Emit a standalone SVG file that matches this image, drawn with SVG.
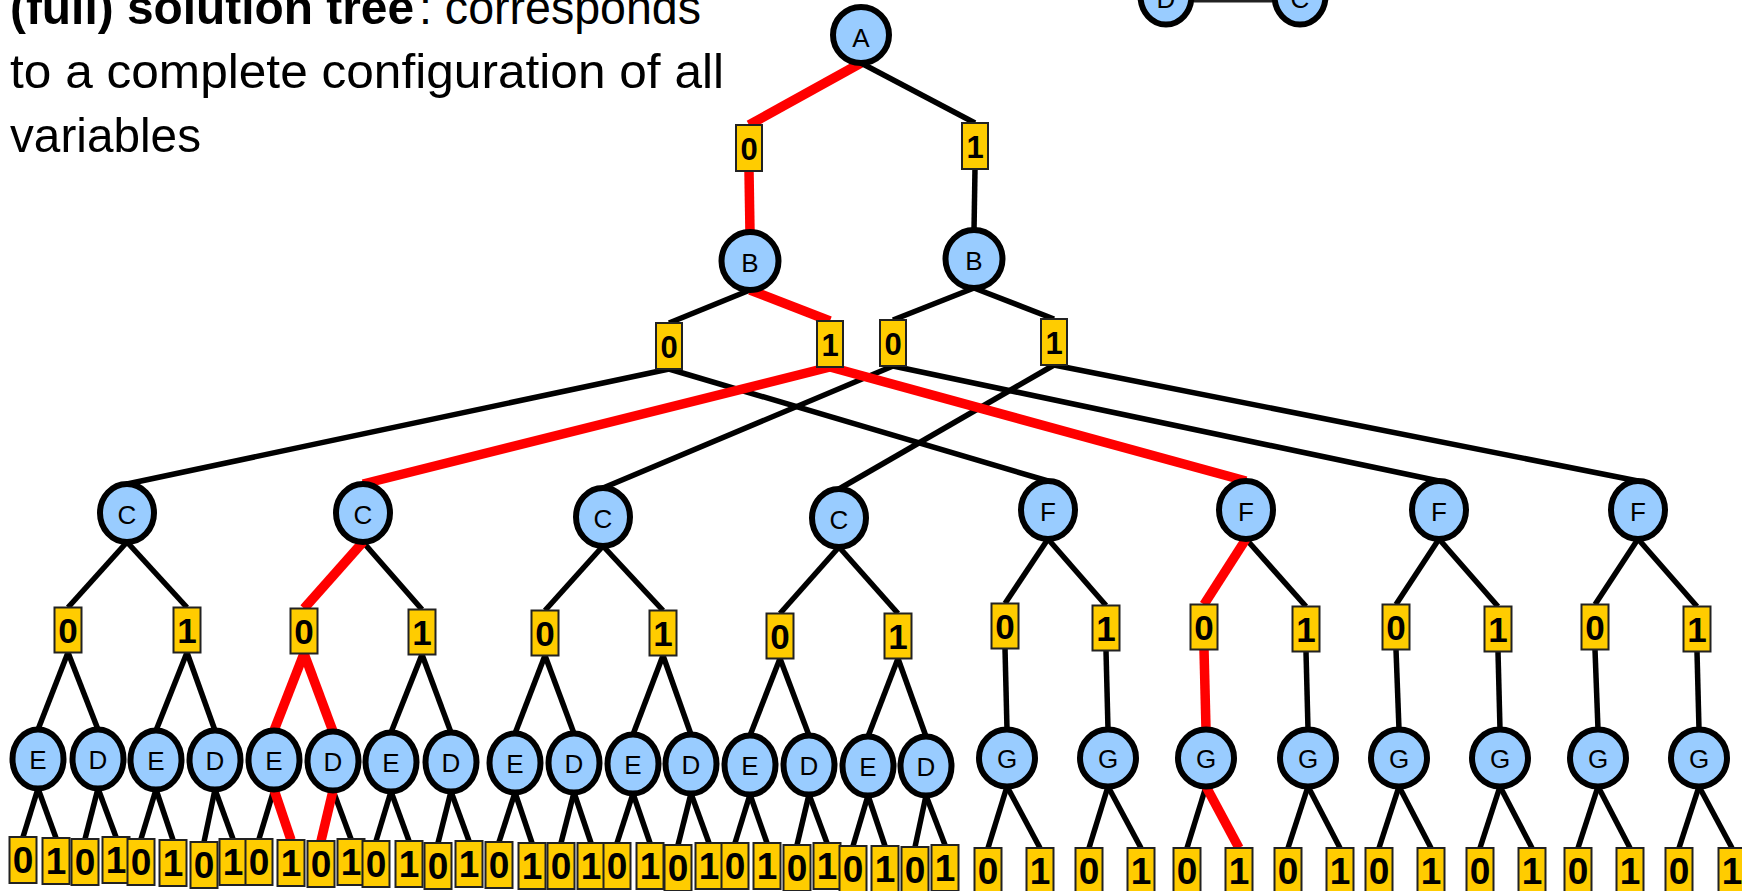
<svg xmlns="http://www.w3.org/2000/svg" width="1742" height="891" viewBox="0 0 1742 891">
  <style>
    .cap { font-family: "Liberation Sans", Arial, sans-serif; font-size: 49px; fill: #000; }
    .cap.b { font-weight: bold; }
    .n ellipse { fill: #99CCFF; stroke: #000; stroke-width: 6; }
    .n text { font-family: "Liberation Sans", Arial, sans-serif; font-size: 26px; text-anchor: middle; fill: #000; }
    .v rect { fill: #FFCC00; stroke: #222; stroke-width: 2; }
    .v text { font-family: "Liberation Sans", Arial, sans-serif; font-weight: bold; font-size: 31px; text-anchor: middle; fill: #000; }
    .v.m text { font-size: 35px; }
    .v.s text { font-size: 37px; }
    #connectors line { stroke: #000; stroke-width: 5.5; }
    #connectors line.r { stroke: #FF0000; stroke-width: 9.5; }
    #connectors line.t { stroke: #222; stroke-width: 3; }
  </style>

  <!-- caption -->
  <g id="caption">
    <text class="cap b" x="10" y="24" textLength="404" lengthAdjust="spacingAndGlyphs">(full) solution tree</text>
    <text class="cap" x="419" y="24" textLength="282" lengthAdjust="spacingAndGlyphs">: corresponds</text>
    <text class="cap" x="10" y="88" textLength="714" lengthAdjust="spacingAndGlyphs">to a complete configuration of all</text>
    <text class="cap" x="10" y="152" textLength="191" lengthAdjust="spacingAndGlyphs">variables</text>
  </g>

  <g id="connectors">
    <!-- primal graph fragment -->
    <line class="t" x1="1194" y1="1" x2="1272" y2="1"/>
    <!-- A -->
    <line class="r" x1="861" y1="63" x2="749" y2="125"/>
    <line x1="861" y1="63" x2="975" y2="123"/>
    <line class="r" x1="749" y1="171" x2="750" y2="233"/>
    <line x1="975" y1="169" x2="974" y2="231"/>
    <!-- B -->
    <line x1="750" y1="290" x2="669" y2="323"/>
    <line class="r" x1="750" y1="290" x2="830" y2="321"/>
    <line x1="974" y1="288" x2="893" y2="320"/>
    <line x1="974" y1="288" x2="1054" y2="319"/>
    <!-- level 2 values to C / F -->
    <line x1="669" y1="369" x2="127" y2="484"/>
    <line x1="669" y1="369" x2="1048" y2="481"/>
    <line x1="893" y1="366" x2="603" y2="488"/>
    <line x1="893" y1="366" x2="1439" y2="481"/>
    <line x1="1054" y1="365" x2="839" y2="489"/>
    <line x1="1054" y1="365" x2="1638" y2="481"/>
    <line class="r" x1="830" y1="367" x2="363" y2="484"/>
    <line class="r" x1="830" y1="367" x2="1246" y2="481"/>
    <!-- C / F to values -->
    <line x1="127" y1="542" x2="68" y2="607.5"/>
    <line x1="127" y1="542" x2="187" y2="607.5"/>
    <line x1="363" y1="542" x2="422" y2="609.5"/>
    <line x1="603" y1="546" x2="545" y2="610.5"/>
    <line x1="603" y1="546" x2="663" y2="610.5"/>
    <line x1="839" y1="547" x2="780" y2="613.5"/>
    <line x1="839" y1="547" x2="898" y2="613.5"/>
    <line x1="1048" y1="539" x2="1005" y2="603.5"/>
    <line x1="1048" y1="539" x2="1106" y2="605.5"/>
    <line x1="1246" y1="539" x2="1306" y2="606.5"/>
    <line x1="1439" y1="539" x2="1396" y2="604.5"/>
    <line x1="1439" y1="539" x2="1498" y2="606.5"/>
    <line x1="1638" y1="539" x2="1595" y2="604.5"/>
    <line x1="1638" y1="539" x2="1697" y2="606.5"/>
    <line class="r" x1="363" y1="542" x2="304" y2="608.5"/>
    <line class="r" x1="1246" y1="539" x2="1204" y2="604.5"/>
    <!-- values to E / D -->
    <line x1="68" y1="652.5" x2="38" y2="729.5"/>
    <line x1="68" y1="652.5" x2="98" y2="729.5"/>
    <line x1="187" y1="652.5" x2="156" y2="730.5"/>
    <line x1="187" y1="652.5" x2="215" y2="730.5"/>
    <line x1="422" y1="654.5" x2="391" y2="732.5"/>
    <line x1="422" y1="654.5" x2="451" y2="732.5"/>
    <line x1="545" y1="655.5" x2="515" y2="733.5"/>
    <line x1="545" y1="655.5" x2="574" y2="733.5"/>
    <line x1="663" y1="655.5" x2="633" y2="734.5"/>
    <line x1="663" y1="655.5" x2="691" y2="734.5"/>
    <line x1="780" y1="658.5" x2="750" y2="735.5"/>
    <line x1="780" y1="658.5" x2="809" y2="735.5"/>
    <line x1="898" y1="658.5" x2="868" y2="736.5"/>
    <line x1="898" y1="658.5" x2="926" y2="736.5"/>
    <line class="r" x1="304" y1="653.5" x2="274" y2="730.5"/>
    <line class="r" x1="304" y1="653.5" x2="333" y2="731.5"/>
    <!-- values to G -->
    <line x1="1005" y1="648.5" x2="1007" y2="729.5"/>
    <line x1="1106" y1="650.5" x2="1108" y2="729.5"/>
    <line x1="1306" y1="651.5" x2="1308" y2="729.5"/>
    <line x1="1396" y1="649.5" x2="1399" y2="729.5"/>
    <line x1="1498" y1="651.5" x2="1500" y2="729.5"/>
    <line x1="1595" y1="649.5" x2="1598" y2="729.5"/>
    <line x1="1697" y1="651.5" x2="1699" y2="729.5"/>
    <line class="r" x1="1204" y1="649.5" x2="1206" y2="729.5"/>
    <!-- E / D to leaf values -->
    <line x1="38" y1="788.5" x2="23" y2="837"/>
    <line x1="38" y1="788.5" x2="56" y2="838"/>
    <line x1="98" y1="788.5" x2="85" y2="839"/>
    <line x1="98" y1="788.5" x2="116" y2="837"/>
    <line x1="156" y1="789.5" x2="141" y2="839"/>
    <line x1="156" y1="789.5" x2="173" y2="840"/>
    <line x1="215" y1="789.5" x2="204" y2="842"/>
    <line x1="215" y1="789.5" x2="233" y2="839"/>
    <line x1="274" y1="789.5" x2="259" y2="839"/>
    <line x1="333" y1="790.5" x2="351" y2="839"/>
    <line x1="391" y1="791.5" x2="376" y2="841"/>
    <line x1="391" y1="791.5" x2="409" y2="841"/>
    <line x1="451" y1="791.5" x2="438" y2="843"/>
    <line x1="451" y1="791.5" x2="469" y2="841"/>
    <line x1="515" y1="792.5" x2="499" y2="842"/>
    <line x1="515" y1="792.5" x2="532" y2="843"/>
    <line x1="574" y1="792.5" x2="561" y2="843"/>
    <line x1="574" y1="792.5" x2="591" y2="843"/>
    <line x1="633" y1="793.5" x2="617" y2="843"/>
    <line x1="633" y1="793.5" x2="650" y2="843"/>
    <line x1="691" y1="793.5" x2="678" y2="845"/>
    <line x1="691" y1="793.5" x2="709" y2="843"/>
    <line x1="750" y1="794.5" x2="735" y2="843"/>
    <line x1="750" y1="794.5" x2="767" y2="843"/>
    <line x1="809" y1="794.5" x2="797" y2="845"/>
    <line x1="809" y1="794.5" x2="827" y2="843"/>
    <line x1="868" y1="795.5" x2="853" y2="846"/>
    <line x1="868" y1="795.5" x2="885" y2="846"/>
    <line x1="926" y1="795.5" x2="915" y2="847"/>
    <line x1="926" y1="795.5" x2="945" y2="845"/>
    <line class="r" x1="274" y1="789.5" x2="291" y2="840"/>
    <line class="r" x1="333" y1="790.5" x2="321" y2="841"/>
    <!-- G to leaf values -->
    <line x1="1007" y1="786.5" x2="988" y2="848"/>
    <line x1="1007" y1="786.5" x2="1040" y2="848"/>
    <line x1="1108" y1="786.5" x2="1089" y2="848"/>
    <line x1="1108" y1="786.5" x2="1141" y2="848"/>
    <line x1="1206" y1="786.5" x2="1187" y2="848"/>
    <line x1="1308" y1="786.5" x2="1288" y2="848"/>
    <line x1="1308" y1="786.5" x2="1340" y2="848"/>
    <line x1="1399" y1="786.5" x2="1379" y2="848"/>
    <line x1="1399" y1="786.5" x2="1431" y2="848"/>
    <line x1="1500" y1="786.5" x2="1480" y2="848"/>
    <line x1="1500" y1="786.5" x2="1532" y2="848"/>
    <line x1="1598" y1="786.5" x2="1578" y2="848"/>
    <line x1="1598" y1="786.5" x2="1630" y2="848"/>
    <line x1="1699" y1="786.5" x2="1679" y2="848"/>
    <line x1="1699" y1="786.5" x2="1732" y2="848"/>
    <line class="r" x1="1206" y1="786.5" x2="1239" y2="848"/>
  </g>

  <!-- primal graph fragment (top right) -->
  <g id="pg-D" class="n"><ellipse cx="1166" cy="-4" rx="25.5" ry="28.5"/><text x="1166" y="8">D</text></g>
  <g id="pg-C" class="n"><ellipse cx="1300" cy="-4" rx="25.5" ry="28.5"/><text x="1300" y="8">C</text></g>

  <!-- variable nodes -->
  <g id="n-A" class="n"><ellipse cx="861" cy="35" rx="28" ry="28"/><text x="861" y="47">A</text></g>
  <g id="n-B0" class="n"><ellipse cx="750" cy="261" rx="28.5" ry="29"/><text x="750" y="272">B</text></g>
  <g id="n-B1" class="n"><ellipse cx="974" cy="259" rx="28.5" ry="29"/><text x="974" y="270">B</text></g>

  <g id="n-C00" class="n"><ellipse cx="127" cy="513" rx="27" ry="29"/><text x="127" y="524">C</text></g>
  <g id="n-C01" class="n"><ellipse cx="363" cy="513" rx="27" ry="29"/><text x="363" y="524">C</text></g>
  <g id="n-C10" class="n"><ellipse cx="603" cy="517" rx="27" ry="29"/><text x="603" y="528">C</text></g>
  <g id="n-C11" class="n"><ellipse cx="839" cy="518" rx="27" ry="29"/><text x="839" y="529">C</text></g>
  <g id="n-F00" class="n"><ellipse cx="1048" cy="510" rx="27" ry="29"/><text x="1048" y="521">F</text></g>
  <g id="n-F01" class="n"><ellipse cx="1246" cy="510" rx="27" ry="29"/><text x="1246" y="521">F</text></g>
  <g id="n-F10" class="n"><ellipse cx="1439" cy="510" rx="27" ry="29"/><text x="1439" y="521">F</text></g>
  <g id="n-F11" class="n"><ellipse cx="1638" cy="510" rx="27" ry="29"/><text x="1638" y="521">F</text></g>

  <g id="n-E1" class="n"><ellipse cx="38" cy="759" rx="25.5" ry="29.5"/><text x="38" y="769">E</text></g>
  <g id="n-D1" class="n"><ellipse cx="98" cy="759" rx="25.5" ry="29.5"/><text x="98" y="769">D</text></g>
  <g id="n-E2" class="n"><ellipse cx="156" cy="760" rx="25.5" ry="29.5"/><text x="156" y="770">E</text></g>
  <g id="n-D2" class="n"><ellipse cx="215" cy="760" rx="25.5" ry="29.5"/><text x="215" y="770">D</text></g>
  <g id="n-E3" class="n"><ellipse cx="274" cy="760" rx="25.5" ry="29.5"/><text x="274" y="770">E</text></g>
  <g id="n-D3" class="n"><ellipse cx="333" cy="761" rx="25.5" ry="29.5"/><text x="333" y="771">D</text></g>
  <g id="n-E4" class="n"><ellipse cx="391" cy="762" rx="25.5" ry="29.5"/><text x="391" y="772">E</text></g>
  <g id="n-D4" class="n"><ellipse cx="451" cy="762" rx="25.5" ry="29.5"/><text x="451" y="772">D</text></g>
  <g id="n-E5" class="n"><ellipse cx="515" cy="763" rx="25.5" ry="29.5"/><text x="515" y="773">E</text></g>
  <g id="n-D5" class="n"><ellipse cx="574" cy="763" rx="25.5" ry="29.5"/><text x="574" y="773">D</text></g>
  <g id="n-E6" class="n"><ellipse cx="633" cy="764" rx="25.5" ry="29.5"/><text x="633" y="774">E</text></g>
  <g id="n-D6" class="n"><ellipse cx="691" cy="764" rx="25.5" ry="29.5"/><text x="691" y="774">D</text></g>
  <g id="n-E7" class="n"><ellipse cx="750" cy="765" rx="25.5" ry="29.5"/><text x="750" y="775">E</text></g>
  <g id="n-D7" class="n"><ellipse cx="809" cy="765" rx="25.5" ry="29.5"/><text x="809" y="775">D</text></g>
  <g id="n-E8" class="n"><ellipse cx="868" cy="766" rx="25.5" ry="29.5"/><text x="868" y="776">E</text></g>
  <g id="n-D8" class="n"><ellipse cx="926" cy="766" rx="25.5" ry="29.5"/><text x="926" y="776">D</text></g>

  <g id="n-G1" class="n"><ellipse cx="1007" cy="758" rx="28" ry="28.5"/><text x="1007" y="768">G</text></g>
  <g id="n-G2" class="n"><ellipse cx="1108" cy="758" rx="28" ry="28.5"/><text x="1108" y="768">G</text></g>
  <g id="n-G3" class="n"><ellipse cx="1206" cy="758" rx="28" ry="28.5"/><text x="1206" y="768">G</text></g>
  <g id="n-G4" class="n"><ellipse cx="1308" cy="758" rx="28" ry="28.5"/><text x="1308" y="768">G</text></g>
  <g id="n-G5" class="n"><ellipse cx="1399" cy="758" rx="28" ry="28.5"/><text x="1399" y="768">G</text></g>
  <g id="n-G6" class="n"><ellipse cx="1500" cy="758" rx="28" ry="28.5"/><text x="1500" y="768">G</text></g>
  <g id="n-G7" class="n"><ellipse cx="1598" cy="758" rx="28" ry="28.5"/><text x="1598" y="768">G</text></g>
  <g id="n-G8" class="n"><ellipse cx="1699" cy="758" rx="28" ry="28.5"/><text x="1699" y="768">G</text></g>

  <!-- value boxes: A and B levels -->
  <g id="v-A0" class="v"><rect x="736" y="125" width="26" height="46"/><text x="749" y="160">0</text></g>
  <g id="v-A1" class="v"><rect x="962" y="123" width="26" height="46"/><text x="975" y="158">1</text></g>
  <g id="v-B00" class="v"><rect x="656" y="323" width="26" height="46"/><text x="669" y="358">0</text></g>
  <g id="v-B01" class="v"><rect x="817" y="321" width="26" height="46"/><text x="830" y="356">1</text></g>
  <g id="v-B10" class="v"><rect x="880" y="320" width="26" height="46"/><text x="893" y="355">0</text></g>
  <g id="v-B11" class="v"><rect x="1041" y="319" width="26" height="46"/><text x="1054" y="354">1</text></g>

  <!-- value boxes: C and F levels -->
  <g id="v-C00-0" class="v m"><rect x="54.5" y="607.5" width="27" height="45"/><text x="68" y="642.5">0</text></g>
  <g id="v-C00-1" class="v m"><rect x="173.5" y="607.5" width="27" height="45"/><text x="187" y="642.5">1</text></g>
  <g id="v-C01-0" class="v m"><rect x="290.5" y="608.5" width="27" height="45"/><text x="304" y="643.5">0</text></g>
  <g id="v-C01-1" class="v m"><rect x="408.5" y="609.5" width="27" height="45"/><text x="422" y="644.5">1</text></g>
  <g id="v-C10-0" class="v m"><rect x="531.5" y="610.5" width="27" height="45"/><text x="545" y="645.5">0</text></g>
  <g id="v-C10-1" class="v m"><rect x="649.5" y="610.5" width="27" height="45"/><text x="663" y="645.5">1</text></g>
  <g id="v-C11-0" class="v m"><rect x="766.5" y="613.5" width="27" height="45"/><text x="780" y="648.5">0</text></g>
  <g id="v-C11-1" class="v m"><rect x="884.5" y="613.5" width="27" height="45"/><text x="898" y="648.5">1</text></g>
  <g id="v-F00-0" class="v m"><rect x="991.5" y="603.5" width="27" height="45"/><text x="1005" y="638.5">0</text></g>
  <g id="v-F00-1" class="v m"><rect x="1092.5" y="605.5" width="27" height="45"/><text x="1106" y="640.5">1</text></g>
  <g id="v-F01-0" class="v m"><rect x="1190.5" y="604.5" width="27" height="45"/><text x="1204" y="639.5">0</text></g>
  <g id="v-F01-1" class="v m"><rect x="1292.5" y="606.5" width="27" height="45"/><text x="1306" y="641.5">1</text></g>
  <g id="v-F10-0" class="v m"><rect x="1382.5" y="604.5" width="27" height="45"/><text x="1396" y="639.5">0</text></g>
  <g id="v-F10-1" class="v m"><rect x="1484.5" y="606.5" width="27" height="45"/><text x="1498" y="641.5">1</text></g>
  <g id="v-F11-0" class="v m"><rect x="1581.5" y="604.5" width="27" height="45"/><text x="1595" y="639.5">0</text></g>
  <g id="v-F11-1" class="v m"><rect x="1683.5" y="606.5" width="27" height="45"/><text x="1697" y="641.5">1</text></g>

  <!-- leaf value boxes under E / D -->
  <g id="v-E1-0" class="v s"><rect x="9.5" y="837" width="27" height="46"/><text x="23" y="873">0</text></g>
  <g id="v-E1-1" class="v s"><rect x="42.5" y="838" width="27" height="46"/><text x="56" y="874">1</text></g>
  <g id="v-D1-0" class="v s"><rect x="71.5" y="839" width="27" height="46"/><text x="85" y="875">0</text></g>
  <g id="v-D1-1" class="v s"><rect x="102.5" y="837" width="27" height="46"/><text x="116" y="873">1</text></g>
  <g id="v-E2-0" class="v s"><rect x="127.5" y="839" width="27" height="46"/><text x="141" y="875">0</text></g>
  <g id="v-E2-1" class="v s"><rect x="159.5" y="840" width="27" height="46"/><text x="173" y="876">1</text></g>
  <g id="v-D2-0" class="v s"><rect x="190.5" y="842" width="27" height="46"/><text x="204" y="878">0</text></g>
  <g id="v-D2-1" class="v s"><rect x="219.5" y="839" width="27" height="46"/><text x="233" y="875">1</text></g>
  <g id="v-E3-0" class="v s"><rect x="245.5" y="839" width="27" height="46"/><text x="259" y="875">0</text></g>
  <g id="v-E3-1" class="v s"><rect x="277.5" y="840" width="27" height="46"/><text x="291" y="876">1</text></g>
  <g id="v-D3-0" class="v s"><rect x="307.5" y="841" width="27" height="46"/><text x="321" y="877">0</text></g>
  <g id="v-D3-1" class="v s"><rect x="337.5" y="839" width="27" height="46"/><text x="351" y="875">1</text></g>
  <g id="v-E4-0" class="v s"><rect x="362.5" y="841" width="27" height="46"/><text x="376" y="877">0</text></g>
  <g id="v-E4-1" class="v s"><rect x="395.5" y="841" width="27" height="46"/><text x="409" y="877">1</text></g>
  <g id="v-D4-0" class="v s"><rect x="424.5" y="843" width="27" height="46"/><text x="438" y="879">0</text></g>
  <g id="v-D4-1" class="v s"><rect x="455.5" y="841" width="27" height="46"/><text x="469" y="877">1</text></g>
  <g id="v-E5-0" class="v s"><rect x="485.5" y="842" width="27" height="46"/><text x="499" y="878">0</text></g>
  <g id="v-E5-1" class="v s"><rect x="518.5" y="843" width="27" height="46"/><text x="532" y="879">1</text></g>
  <g id="v-D5-0" class="v s"><rect x="547.5" y="843" width="27" height="46"/><text x="561" y="879">0</text></g>
  <g id="v-D5-1" class="v s"><rect x="577.5" y="843" width="27" height="46"/><text x="591" y="879">1</text></g>
  <g id="v-E6-0" class="v s"><rect x="603.5" y="843" width="27" height="46"/><text x="617" y="879">0</text></g>
  <g id="v-E6-1" class="v s"><rect x="636.5" y="843" width="27" height="46"/><text x="650" y="879">1</text></g>
  <g id="v-D6-0" class="v s"><rect x="664.5" y="845" width="27" height="46"/><text x="678" y="881">0</text></g>
  <g id="v-D6-1" class="v s"><rect x="695.5" y="843" width="27" height="46"/><text x="709" y="879">1</text></g>
  <g id="v-E7-0" class="v s"><rect x="721.5" y="843" width="27" height="46"/><text x="735" y="879">0</text></g>
  <g id="v-E7-1" class="v s"><rect x="753.5" y="843" width="27" height="46"/><text x="767" y="879">1</text></g>
  <g id="v-D7-0" class="v s"><rect x="783.5" y="845" width="27" height="46"/><text x="797" y="881">0</text></g>
  <g id="v-D7-1" class="v s"><rect x="813.5" y="843" width="27" height="46"/><text x="827" y="879">1</text></g>
  <g id="v-E8-0" class="v s"><rect x="839.5" y="846" width="27" height="46"/><text x="853" y="882">0</text></g>
  <g id="v-E8-1" class="v s"><rect x="871.5" y="846" width="27" height="46"/><text x="885" y="882">1</text></g>
  <g id="v-D8-0" class="v s"><rect x="901.5" y="847" width="27" height="46"/><text x="915" y="883">0</text></g>
  <g id="v-D8-1" class="v s"><rect x="931.5" y="845" width="27" height="46"/><text x="945" y="881">1</text></g>

  <!-- leaf value boxes under G -->
  <g id="v-G1-0" class="v s"><rect x="974.5" y="848" width="27" height="46"/><text x="988" y="884">0</text></g>
  <g id="v-G1-1" class="v s"><rect x="1026.5" y="848" width="27" height="46"/><text x="1040" y="884">1</text></g>
  <g id="v-G2-0" class="v s"><rect x="1075.5" y="848" width="27" height="46"/><text x="1089" y="884">0</text></g>
  <g id="v-G2-1" class="v s"><rect x="1127.5" y="848" width="27" height="46"/><text x="1141" y="884">1</text></g>
  <g id="v-G3-0" class="v s"><rect x="1173.5" y="848" width="27" height="46"/><text x="1187" y="884">0</text></g>
  <g id="v-G3-1" class="v s"><rect x="1225.5" y="848" width="27" height="46"/><text x="1239" y="884">1</text></g>
  <g id="v-G4-0" class="v s"><rect x="1274.5" y="848" width="27" height="46"/><text x="1288" y="884">0</text></g>
  <g id="v-G4-1" class="v s"><rect x="1326.5" y="848" width="27" height="46"/><text x="1340" y="884">1</text></g>
  <g id="v-G5-0" class="v s"><rect x="1365.5" y="848" width="27" height="46"/><text x="1379" y="884">0</text></g>
  <g id="v-G5-1" class="v s"><rect x="1417.5" y="848" width="27" height="46"/><text x="1431" y="884">1</text></g>
  <g id="v-G6-0" class="v s"><rect x="1466.5" y="848" width="27" height="46"/><text x="1480" y="884">0</text></g>
  <g id="v-G6-1" class="v s"><rect x="1518.5" y="848" width="27" height="46"/><text x="1532" y="884">1</text></g>
  <g id="v-G7-0" class="v s"><rect x="1564.5" y="848" width="27" height="46"/><text x="1578" y="884">0</text></g>
  <g id="v-G7-1" class="v s"><rect x="1616.5" y="848" width="27" height="46"/><text x="1630" y="884">1</text></g>
  <g id="v-G8-0" class="v s"><rect x="1665.5" y="848" width="27" height="46"/><text x="1679" y="884">0</text></g>
  <g id="v-G8-1" class="v s"><rect x="1718.5" y="848" width="27" height="46"/><text x="1732" y="884">1</text></g>
</svg>
